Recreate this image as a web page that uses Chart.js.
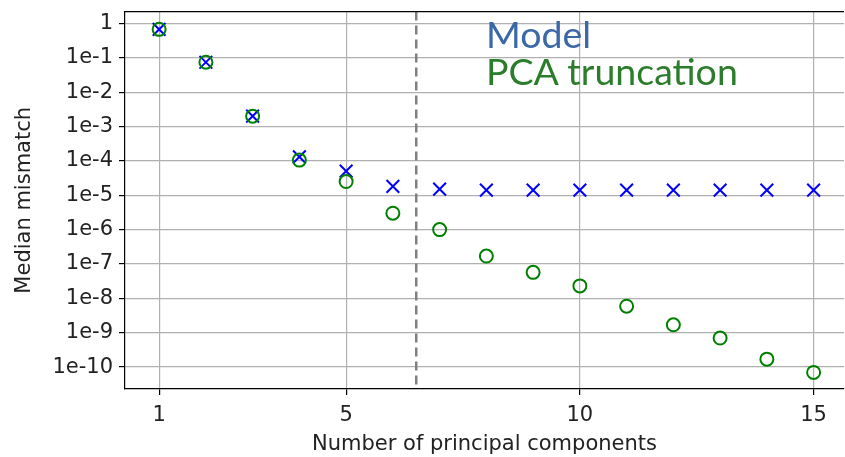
<!DOCTYPE html>
<html>
<head>
<meta charset="utf-8">
<script src="https://cdn.jsdelivr.net/npm/chart.js@4"></script>
<style>
  html, body { margin: 0; padding: 0; background: #fff; overflow: hidden; }
  #wrap { position: relative; width: 845px; height: 457px; overflow: hidden; }
  #chart { position: absolute; left: 0; top: -7px; }
  .lbl { position: absolute; font-family: Lato, sans-serif; font-size: 37.5px; line-height: 1; white-space: nowrap; }
</style>
</head>
<body>
<div id="wrap">
  <canvas id="chart" width="855" height="464"></canvas>
  <div class="lbl" style="left:486px; top:15px; color:#3b68a6;">Model</div>
  <div class="lbl" style="left:486px; top:52px; color:#2b7d2b;">PCA truncation</div>
</div>
<script>
const components = [1, 2, 3, 4, 5, 6, 7, 8, 9, 10, 11, 12, 13, 14, 15];
const modelMismatch = [0.67, 0.074, 2.0e-3, 1.3e-4, 5.0e-5, 1.8e-5, 1.5e-5, 1.4e-5, 1.4e-5, 1.4e-5, 1.4e-5, 1.4e-5, 1.4e-5, 1.4e-5, 1.4e-5];
const pcaMismatch = [0.67, 0.074, 2.0e-3, 1.05e-4, 2.5e-5, 3.0e-6, 1.0e-6, 1.7e-7, 5.7e-8, 2.3e-8, 5.9e-9, 1.7e-9, 7.0e-10, 1.7e-10, 7.0e-11];
const xTicks = [1, 5, 10, 15];
const yTicks = [1, 1e-1, 1e-2, 1e-3, 1e-4, 1e-5, 1e-6, 1e-7, 1e-8, 1e-9, 1e-10];
const cutoff = 6.5;

const frame = {
  id: "frame",
  afterDatasetsDraw(chart) {
    const { ctx, chartArea, scales } = chart;
    const x = scales.x.getPixelForValue(cutoff);
    ctx.save();
    ctx.strokeStyle = "#808080";
    ctx.lineWidth = 2.5;
    ctx.setLineDash([9, 5]);
    ctx.beginPath();
    ctx.moveTo(x, chartArea.top);
    ctx.lineTo(x, chartArea.bottom);
    ctx.stroke();
    ctx.setLineDash([]);
    ctx.strokeStyle = "#000";
    ctx.lineWidth = 1.2;
    ctx.beginPath();
    ctx.moveTo(chartArea.left, chartArea.top);
    ctx.lineTo(chartArea.right, chartArea.top);
    ctx.stroke();
    ctx.restore();
  }
};

const tickFont = { family: "'DejaVu Sans'", size: 21 };

new Chart(document.getElementById("chart"), {
  type: "scatter",
  data: {
    datasets: [
      {
        label: "PCA truncation",
        data: components.map((c, i) => ({ x: c, y: pcaMismatch[i] })),
        pointStyle: "circle",
        pointRadius: 6.5,
        pointBorderWidth: 2,
        borderColor: "#008000",
        backgroundColor: "rgba(0,0,0,0)"
      },
      {
        label: "Model",
        data: components.map((c, i) => ({ x: c, y: modelMismatch[i] })),
        pointStyle: "crossRot",
        pointRadius: 9,
        pointBorderWidth: 2,
        borderColor: "#0000ff",
        backgroundColor: "#0000ff"
      }
    ]
  },
  options: {
    responsive: false,
    animation: false,
    layout: { padding: 0 },
    plugins: { legend: { display: false }, tooltip: { enabled: false } },
    scales: {
      x: {
        type: "linear",
        min: 0.27,
        max: 15.65,
        afterBuildTicks: (s) => { s.ticks = xTicks.map((v) => ({ value: v })); },
        afterFit: (s) => { s.height = 68; },
        ticks: { font: tickFont, color: "#222", padding: 8, maxRotation: 0 },
        grid: { color: "#b0b0b0", lineWidth: 1.2, tickColor: "#000", tickLength: 6 },
        border: { color: "#000", width: 1.2 },
        title: { display: true, text: "Number of principal components", font: tickFont, color: "#222", padding: { top: 4, bottom: 0 } }
      },
      y: {
        type: "logarithmic",
        min: 2.3e-11,
        max: 2.2,
        afterBuildTicks: (s) => { s.ticks = yTicks.map((v) => ({ value: v })); },
        afterFit: (s) => { s.width = 125; },
        ticks: {
          font: tickFont,
          color: "#222",
          padding: 6,
          callback: (v) => (v === 1 ? "1" : "1e" + Math.round(Math.log10(v)))
        },
        grid: { color: "#b0b0b0", lineWidth: 1.2, tickColor: "#000", tickLength: 6 },
        border: { color: "#000", width: 1.2 },
        title: { display: true, text: "Median mismatch", font: tickFont, color: "#222", padding: { top: 12, bottom: 4 } }
      }
    }
  },
  plugins: [frame]
});
</script>
</body>
</html>
